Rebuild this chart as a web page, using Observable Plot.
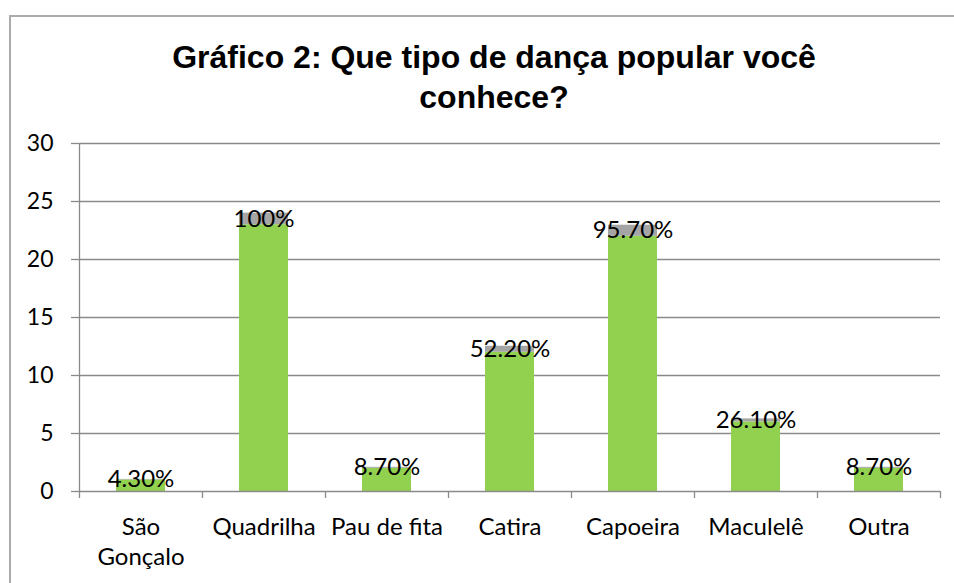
<!DOCTYPE html>
<html>
<head>
<meta charset="utf-8">
<script src="https://cdn.jsdelivr.net/npm/d3@7"></script>
<script src="https://cdn.jsdelivr.net/npm/@observablehq/plot@0.6"></script>
<style>
  html, body { margin: 0; padding: 0; background: #fff; }
  #wrap { position: relative; width: 954px; height: 583px; overflow: hidden; background: #fff; }
  #border { position: absolute; left: 9px; top: 15px; width: 960px; height: 600px; border-top: 2px solid #ababab; border-left: 2px solid #ababab; box-sizing: border-box; }
  #title { position: relative; height: 120px; box-sizing: border-box; padding-top: 37px; padding-left: 34px; text-align: center;
           font-family: Arial, "Liberation Sans", Helvetica, sans-serif; font-weight: bold; font-size: 32px; line-height: 40px; color: #000; white-space: nowrap; }
  #chart { position: relative; }
</style>
</head>
<body>
<div id="wrap">
  <div id="border"></div>
  <div id="title">Gráfico 2: Que tipo de dança popular você<br>conhece?</div>
  <div id="chart"></div>
</div>
<script>
const categories = ["São Gonçalo", "Quadrilha", "Pau de fita", "Catira", "Capoeira", "Maculelê", "Outra"];
const categoryLabels = ["São\nGonçalo", "Quadrilha", "Pau de fita", "Catira", "Capoeira", "Maculelê", "Outra"];
const counts = [1, 23, 2, 12, 22, 6, 2];
const shares = [0.043, 1, 0.087, 0.522, 0.957, 0.261, 0.087];
const shareLabels = ["4.30%", "100%", "8.70%", "52.20%", "95.70%", "26.10%", "8.70%"];
const yTicks = [0, 5, 10, 15, 20, 25, 30];

const data = categories.map((c, i) => ({
  i, name: c, label: categoryLabels[i], count: counts[i], share: shares[i], shareLabel: shareLabels[i]
}));
const bounds = d3.range(categories.length + 1);
const centers = data.map(d => d.i + 0.5);

const font = "Lato, 'Open Sans', sans-serif";
const gridColor = "#8a8a8a";

const chart = Plot.plot({
  width: 954,
  height: 463,
  marginTop: 23,
  marginBottom: 92,
  marginLeft: 79,
  marginRight: 14,
  style: { fontFamily: font, fontSize: "24px", color: "#000", background: "transparent" },
  x: { type: "linear", domain: [0, categories.length], axis: null },
  y: { domain: [0, 30], axis: null },
  marks: [
    Plot.gridY(yTicks.filter(t => t > 0), { stroke: gridColor, strokeOpacity: 1, strokeWidth: 1.3 }),
    Plot.rectY(data, { x1: d => d.i, x2: d => d.i + 1, y1: 0, y2: "count", fill: "#92D050", insetLeft: 37, insetRight: 37 }),
    Plot.rectY(data, { x1: d => d.i, x2: d => d.i + 1, y1: "count", y2: d => d.count + d.share, fill: "#A5A5A5", insetLeft: 37, insetRight: 37 }),
    Plot.ruleY([0], { stroke: gridColor, strokeWidth: 1.3 }),
    Plot.ruleX([0], { y1: 0, y2: 30, stroke: gridColor, strokeWidth: 1.3 }),
    Plot.axisY({ ticks: yTicks, tickSize: 8, tickPadding: 18, stroke: gridColor, strokeWidth: 1.3, strokeOpacity: 1, fontSize: 23, label: null, tickFormat: d => String(d) }),
    Plot.axisX({ ticks: bounds, tickSize: 7, tickFormat: () => "", stroke: gridColor, strokeWidth: 1.3, strokeOpacity: 1, label: null }),
    Plot.axisX({ ticks: centers, tickSize: 0, tickPadding: 22, tickFormat: (t) => categoryLabels[Math.floor(t)], fontSize: 24, lineHeight: 1.25, label: null }),
    Plot.text(data, { x: d => d.i + 0.5, y: d => d.count + d.share / 2, text: "shareLabel", fill: "#000", fontSize: 24, textAnchor: "middle", lineAnchor: "middle" })
  ]
});
document.getElementById("chart").appendChild(chart);
</script>
</body>
</html>
